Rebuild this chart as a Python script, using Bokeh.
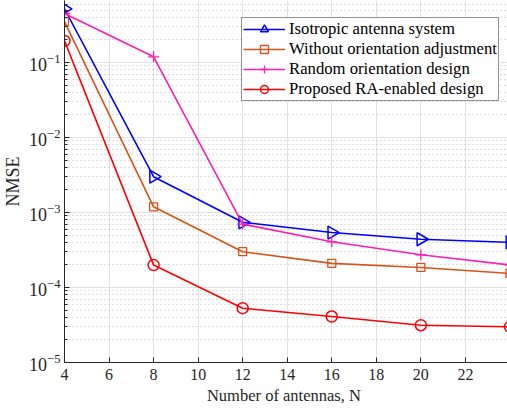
import numpy as np
from bokeh.plotting import figure
from bokeh.models import FixedTicker, Legend, LegendItem, Range1d
from bokeh.embed import file_html
from bokeh.resources import INLINE

# ---- data ----
N = [4, 8, 12, 16, 20, 24]
isotropic = [0.52, 3.0e-3, 7.4e-4, 5.4e-4, 4.4e-4, 4.0e-4]
without_adj = [0.35, 1.19e-3, 3.0e-4, 2.1e-4, 1.85e-4, 1.54e-4]
random_orient = [0.45, 0.119, 7.0e-4, 4.07e-4, 2.73e-4, 2.0e-4]
proposed = [0.194, 1.99e-4, 5.3e-5, 4.1e-5, 3.14e-5, 2.99e-5]

x_ticks = [4, 6, 8, 10, 12, 14, 16, 18, 20, 22]
y_ticks = [1e-5, 1e-4, 1e-3, 1e-2, 1e-1]
y_minor = [k * t for t in y_ticks for k in range(2, 10)]

series_names = ["Isotropic antenna system", "Without orientation adjustment",
                "Random orientation design", "Proposed RA-enabled design"]
x_label_text = "Number of antennas,  N"
y_label_text = "NMSE"

FONT = "Liberation Serif"
AXC = "#262626"

p = figure(width=507, height=408, y_axis_type="log",
           x_range=Range1d(4, 23.89), y_range=Range1d(1e-5, 0.671),
           output_backend="svg", toolbar_location=None,
           min_border_left=62, min_border_right=0, min_border_top=0, min_border_bottom=46)
p.outline_line_color = None
p.background_fill_color = "white"
p.border_fill_color = "white"

# axes
p.xaxis.ticker = FixedTicker(ticks=x_ticks, minor_ticks=[])
p.yaxis.ticker = FixedTicker(ticks=y_ticks, minor_ticks=y_minor)
for axs in (p.xaxis, p.yaxis):
    axs.axis_line_color = AXC
    axs.major_tick_line_color = AXC
    axs.minor_tick_line_color = AXC
    axs.major_tick_in = 5
    axs.major_tick_out = 0
    axs.minor_tick_in = 3
    axs.minor_tick_out = 0
    axs.major_label_text_font = FONT
    axs.major_label_text_font_style = "normal"
    axs.major_label_text_color = AXC
    axs.major_label_text_line_height = 1.0
    axs.axis_label_text_font = FONT
    axs.axis_label_text_font_style = "normal"
    axs.axis_label_text_color = AXC
    axs.axis_label_text_line_height = 1.0
p.xaxis.major_label_text_font_size = "16px"
p.yaxis.major_label_text_font_size = "18px"
p.xaxis.major_label_standoff = 6
p.yaxis.major_label_standoff = 4
p.yaxis.axis_label = y_label_text
p.yaxis.axis_label_text_font_size = "18px"
p.yaxis.axis_label_standoff = 3
p.xaxis.axis_label = x_label_text
p.xaxis.axis_label_text_font_size = "16.5px"
p.xaxis.axis_label_standoff = 3

# grid
p.xgrid.grid_line_color = "#e2e2e2"
p.ygrid.grid_line_color = "#e2e2e2"
p.ygrid.minor_grid_line_color = "#bcbcbc"
p.ygrid.minor_grid_line_dash = "1 3"

colors = ["#0000ff", "#d95319", "#ff1db0", "#ff0000"]
data = [isotropic, without_adj, random_orient, proposed]
items = []
for name, ys, c, i in zip(series_names, data, colors, range(4)):
    ln = p.line(N, ys, line_color=c, line_width=1.6)
    if i == 0:
        mk = p.scatter(N, ys, marker="triangle", size=13, angle=-np.pi / 2,
                       line_color=c, fill_color=None, line_width=1.5)
    elif i == 1:
        mk = p.scatter(N, ys, marker="square", size=8, line_color=c,
                       fill_color=None, line_width=1.3)
    elif i == 2:
        mk = p.scatter(N, ys, marker="cross", size=11, line_color=c, line_width=1.3)
    else:
        mk = p.scatter(N, ys, marker="circle", size=11, line_color=c,
                       fill_color=None, line_width=1.5)
    items.append(LegendItem(label=name, renderers=[ln, mk]))

legend = Legend(items=items, location=(177, 261))
legend.label_text_font = FONT
legend.label_text_font_size = "16.7px"
legend.label_text_color = "black"
legend.glyph_width = 42
legend.glyph_height = 20
legend.label_height = 20
legend.label_standoff = 4
legend.spacing = 0
legend.padding = 1
legend.margin = 0
legend.border_line_color = AXC
legend.border_line_width = 1
legend.background_fill_color = "white"
legend.background_fill_alpha = 1.0
p.add_layout(legend)

open("out.html", "w").write(file_html(p, INLINE))
